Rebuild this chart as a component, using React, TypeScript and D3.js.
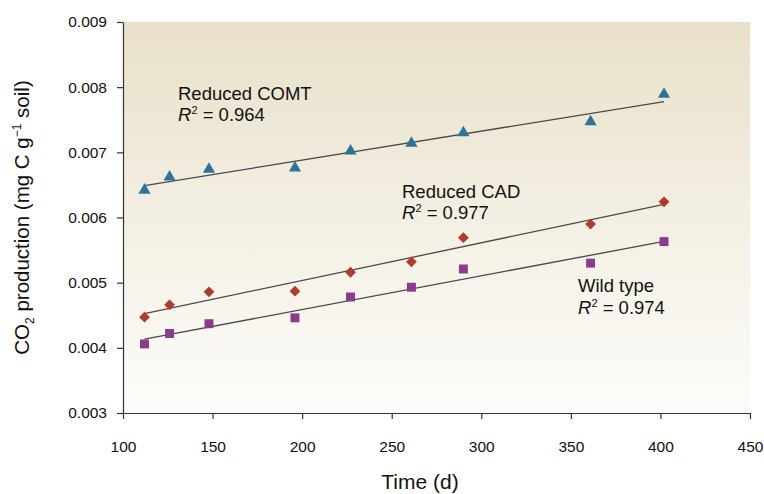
import React, { useRef, useEffect } from "react";
import * as d3 from "d3";

// days of measurement (shared by all three lines)
const days = [112, 126, 148, 196, 227, 261, 290, 361, 402];

const comt = [0.00642, 0.00662, 0.00674, 0.00676, 0.00702, 0.00714, 0.0073, 0.00747, 0.00789];
const cad = [0.00447, 0.00466, 0.00486, 0.00487, 0.00516, 0.00532, 0.00569, 0.0059, 0.00624];
const wild = [0.00406, 0.00422, 0.00437, 0.00446, 0.00478, 0.00493, 0.00521, 0.0053, 0.00563];

const xTicks = [100, 150, 200, 250, 300, 350, 400, 450];
const yTicks = [0.003, 0.004, 0.005, 0.006, 0.007, 0.008, 0.009];

const W = 764;
const H = 494;
const margin = { top: 22, right: 14, bottom: 81, left: 123 };

const x = d3.scaleLinear().domain([100, 450]).range([margin.left, W - margin.right]);
const y = d3.scaleLinear().domain([0.003, 0.009]).range([H - margin.bottom, margin.top]);

// least squares fit of a series against days
function fit(vals) {
  const mx = d3.mean(days);
  const my = d3.mean(vals);
  let num = 0;
  let den = 0;
  days.forEach((d, i) => {
    num += (d - mx) * (vals[i] - my);
    den += (d - mx) * (d - mx);
  });
  const b = num / den;
  const a = my - b * mx;
  const x0 = d3.min(days);
  const x1 = d3.max(days);
  return [
    [x0, a + b * x0],
    [x1, a + b * x1],
  ];
}

const series = [
  { name: "comt", vals: comt, color: "#2f7399", shape: d3.symbolTriangle, size: 64, rot: 0 },
  { name: "cad", vals: cad, color: "#b03b2b", shape: d3.symbolSquare, size: 58, rot: 45 },
  { name: "wild", vals: wild, color: "#8a3b8a", shape: d3.symbolSquare, size: 80, rot: 0 },
];

const FONT = "'Liberation Sans', Arial, Helvetica, sans-serif";

const R2 = ({ x0, y0, val }) => (
  <text x={x0} y={y0}>
    <tspan fontStyle="italic">R</tspan>
    <tspan fontSize={11} dy={-7}>2</tspan>
    <tspan dy={7}> = {val}</tspan>
  </text>
);

const App = () => {
  const xAxisRef = useRef(null);
  const yAxisRef = useRef(null);

  useEffect(() => {
    const xa = d3.select(xAxisRef.current);
    xa.call(d3.axisBottom(x).tickValues(xTicks).tickSize(6).tickSizeOuter(0).tickPadding(22));
    xa.selectAll("path, line").attr("stroke", "#333").attr("stroke-width", 1.2);
    xa.selectAll("text").attr("font-size", 15.5).attr("font-family", FONT).attr("fill", "#111");

    const ya = d3.select(yAxisRef.current);
    ya.call(
      d3.axisLeft(y).tickValues(yTicks).tickSize(6).tickSizeOuter(0).tickPadding(10).tickFormat(d3.format(".3f"))
    );
    ya.selectAll("path, line").attr("stroke", "#333").attr("stroke-width", 1.2);
    ya.selectAll("text").attr("font-size", 15.5).attr("font-family", FONT).attr("fill", "#111");
  }, []);

  const line = d3
    .line()
    .x((d) => x(d[0]))
    .y((d) => y(d[1]));

  return (
    <svg width={W} height={H} style={{ position: "absolute", left: 0, top: 0, background: "#fff" }}>
      <defs>
        <linearGradient id="bg" x1="0" y1="0" x2="0" y2="1">
          <stop offset="0" stopColor="#e8e0c9" />
          <stop offset="0.5" stopColor="#f3efe3" />
          <stop offset="1" stopColor="#fdfcfa" />
        </linearGradient>
      </defs>
      <rect
        x={x(100)}
        y={y(0.009)}
        width={x(450) - x(100)}
        height={y(0.003) - y(0.009)}
        fill="url(#bg)"
      />

      {series.map((s) => (
        <path key={s.name + "-fit"} d={line(fit(s.vals))} fill="none" stroke="#4a4a4a" strokeWidth={1.3} />
      ))}

      {series.map((s) =>
        s.vals.map((v, i) => (
          <path
            key={s.name + i}
            d={d3.symbol().type(s.shape).size(s.size)()}
            transform={`translate(${x(days[i])},${y(v)}) rotate(${s.rot})`}
            fill={s.color}
          />
        ))
      )}

      <g ref={xAxisRef} transform={`translate(0,${y(0.003)})`} />
      <g ref={yAxisRef} transform={`translate(${x(100)},0)`} />

      <g fontFamily={FONT} fontSize={18.5} fill="#111">
        <text x={178} y={100}>Reduced COMT</text>
        <R2 x0={178} y0={121} val="0.964" />
        <text x={402} y={198}>Reduced CAD</text>
        <R2 x0={402} y0={219} val="0.977" />
        <text x={578} y={292}>Wild type</text>
        <R2 x0={578} y0={314} val="0.974" />
      </g>

      <text x={420} y={489} textAnchor="middle" fontFamily={FONT} fontSize={21} fill="#111">
        Time (d)
      </text>
      <text
        transform={`translate(29,${(y(0.003) + y(0.009)) / 2}) rotate(-90)`}
        textAnchor="middle"
        fontFamily={FONT}
        fontSize={20.5}
        fill="#111"
      >
        CO
        <tspan fontSize={12} dy={5}>2</tspan>
        <tspan dy={-5}> production (mg C g</tspan>
        <tspan fontSize={12} dy={-8}>−1</tspan>
        <tspan dy={8}> soil)</tspan>
      </text>
    </svg>
  );
};

export default App;
